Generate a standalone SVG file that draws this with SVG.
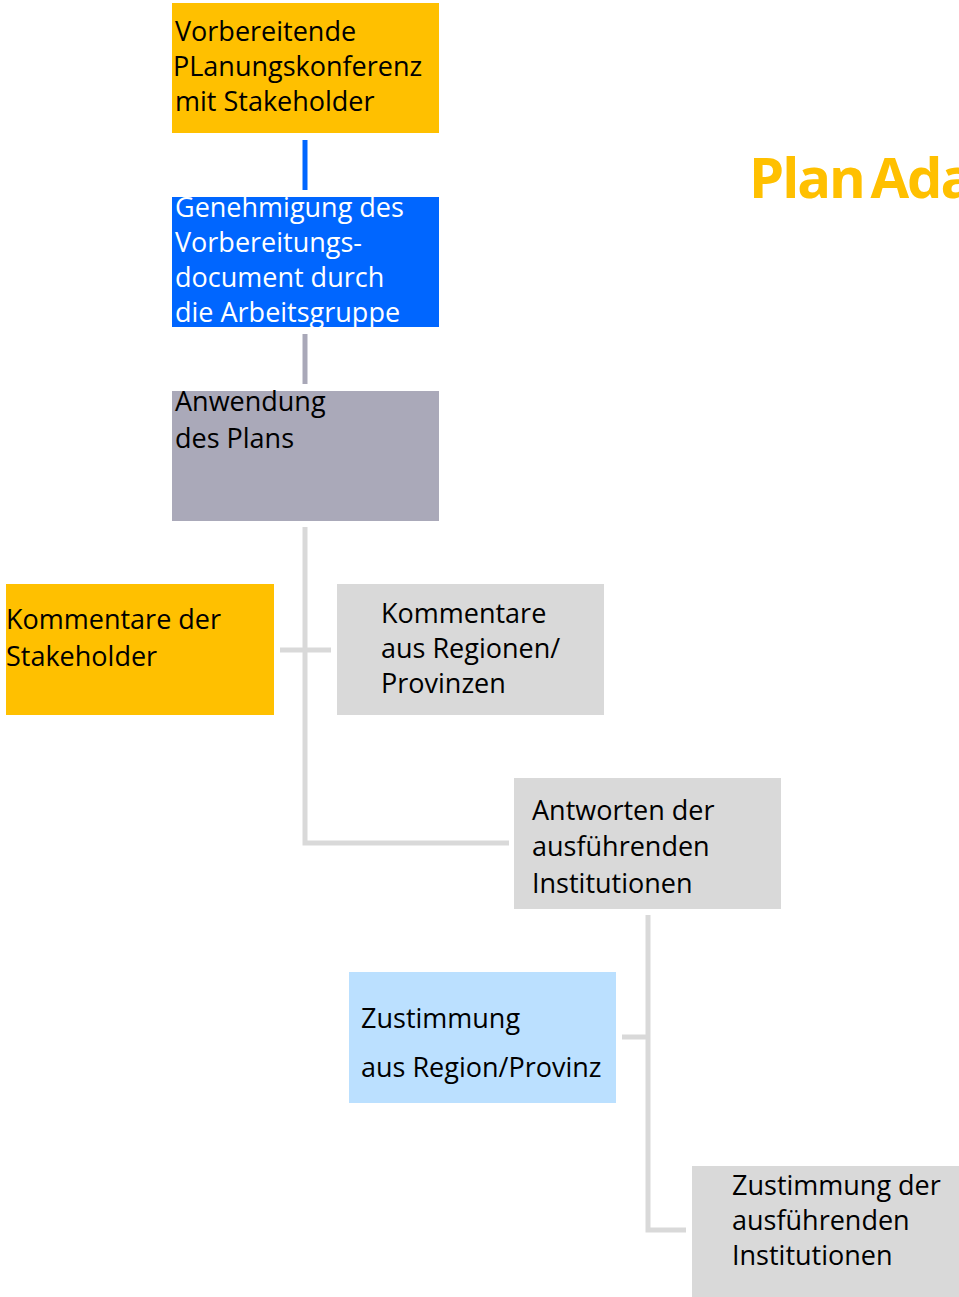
<svg xmlns="http://www.w3.org/2000/svg" width="959" height="1297" viewBox="0 0 959 1297">
<style>
text{font-family:"Open Sans","Noto Sans","Liberation Sans",sans-serif;font-size:27px;fill:#000}
.w{fill:#fff}
.title{font-weight:bold;font-size:56px;fill:#FFC000;letter-spacing:-2px;word-spacing:-6px}
.ln{stroke:#D9D9D9;stroke-width:5;fill:none}
</style>
<rect width="959" height="1297" fill="#fff"/>
<text class="title" x="749" y="198">Plan Ada</text>
<g id="connectors">
<line x1="305" y1="140" x2="305" y2="190" stroke="#0066FF" stroke-width="5"/>
<line x1="305" y1="334" x2="305" y2="384" stroke="#A9A8B8" stroke-width="5"/>
<polyline class="ln" points="305,527 305,843 509,843"/>
<line class="ln" x1="280" y1="650" x2="331" y2="650"/>
<polyline class="ln" points="622,1037 648,1037"/>
<polyline class="ln" points="648,915 648,1230 686,1230"/>
</g>
<g id="n1"><rect x="172" y="3" width="267" height="130" fill="#FFC000"/>
<text x="175" y="41">Vorbereitende</text><text x="173" y="76">PLanungskonferenz</text><text x="175" y="111">mit Stakeholder</text></g>
<g id="n2"><rect x="172" y="197" width="267" height="130" fill="#0066FF"/>
<text class="w" x="175" y="217">Genehmigung des</text><text class="w" x="175" y="252">Vorbereitungs-</text><text class="w" x="175" y="287">document durch</text><text class="w" x="175" y="322">die Arbeitsgruppe</text></g>
<g id="n3"><rect x="172" y="391" width="267" height="130" fill="#AAA9B9"/>
<text x="175" y="411">Anwendung</text><text x="175" y="448">des Plans</text></g>
<g id="n4"><rect x="6" y="584" width="268" height="131" fill="#FFC000"/>
<text x="6" y="629">Kommentare der</text><text x="6" y="666">Stakeholder</text></g>
<g id="n5"><rect x="337" y="584" width="267" height="131" fill="#D9D9D9"/>
<text x="381" y="623">Kommentare</text><text x="381" y="658">aus Regionen/</text><text x="381" y="693">Provinzen</text></g>
<g id="n6"><rect x="514" y="778" width="267" height="131" fill="#D9D9D9"/>
<text x="532" y="820">Antworten der</text><text x="532" y="856">ausführenden</text><text x="532" y="893">Institutionen</text></g>
<g id="n7"><rect x="349" y="972" width="267" height="131" fill="#BBE0FF"/>
<text x="361" y="1028">Zustimmung</text><text x="361" y="1077">aus Region/Provinz</text></g>
<g id="n8"><rect x="692" y="1166" width="267" height="131" fill="#D9D9D9"/>
<text x="732" y="1195">Zustimmung der</text><text x="732" y="1230">ausführenden</text><text x="732" y="1265">Institutionen</text></g>
</svg>
